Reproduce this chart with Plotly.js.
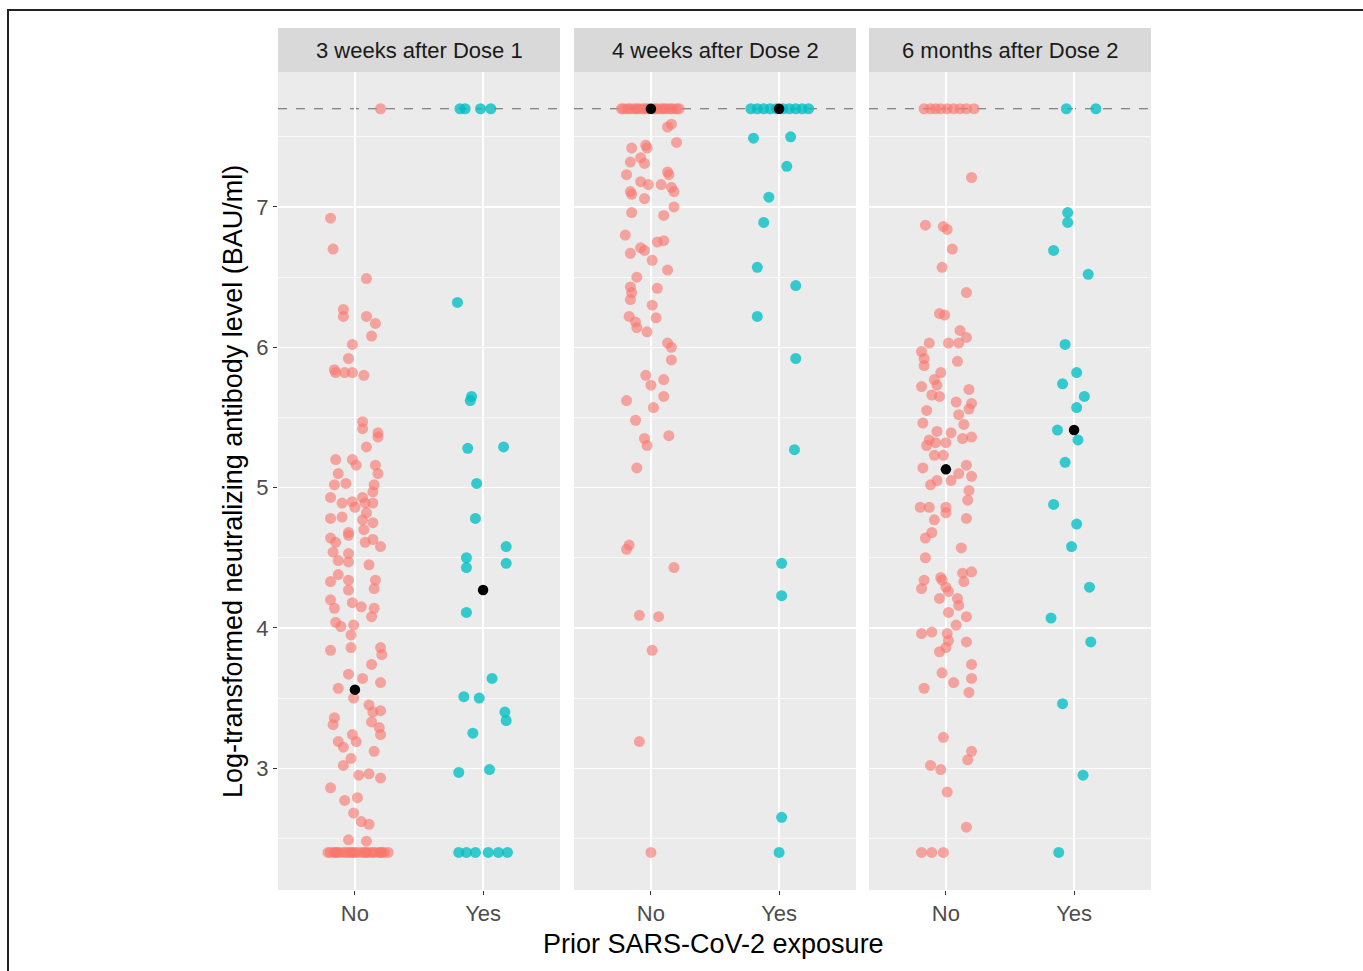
<!DOCTYPE html>
<html>
<head>
<meta charset="utf-8">
<script src="https://cdn.plot.ly/plotly-3.0.1.min.js"></script>
<style>html,body{margin:0;padding:0;background:#fff}#chart{width:1363px;height:971px}</style>
</head>
<body>
<div id="chart"></div>
<script>
// ---------- data ----------
const panels = ["3 weeks after Dose 1", "4 weeks after Dose 2", "6 months after Dose 2"];
const groups = ["No", "Yes"];
const upperLimit = 7.70;

// Panel 1: 3 weeks after Dose 1
const p1NoY = [7.70, 6.92, 6.70, 6.49, 6.27, 6.22, 6.22, 6.17, 6.08, 6.02,
  5.92, 5.84, 5.82, 5.82, 5.82, 5.80, 5.47, 5.42, 5.39, 5.36,
  5.29, 5.20, 5.20, 5.16, 5.16, 5.10, 5.10, 5.02, 5.03, 5.02,
  4.97, 4.93, 4.89, 4.90, 4.86, 4.93, 4.89, 4.89, 4.78, 4.79,
  4.77, 4.75, 4.82, 4.64, 4.61, 4.66, 4.68, 4.70, 4.61, 4.63,
  4.58, 4.54, 4.48, 4.53, 4.47, 4.45, 4.33, 4.38, 4.34, 4.27,
  4.34, 4.28, 4.20, 4.14, 4.18, 4.15, 4.14, 4.08, 4.04, 4.01,
  4.02, 3.95, 3.84, 3.86, 3.86, 3.81, 3.74, 3.67, 3.57, 3.64,
  3.50, 3.61, 3.45, 3.40, 3.41, 3.36, 3.31, 3.33, 3.29, 3.24,
  3.24, 3.19, 3.19, 3.15, 3.12, 3.07, 3.02, 2.95, 2.96, 2.93,
  2.86, 2.77, 2.79, 2.68, 2.62, 2.60, 2.49, 2.48,
  2.40, 2.40, 2.40, 2.40, 2.40, 2.40, 2.40, 2.40, 2.40, 2.40,
  2.40, 2.40, 2.40, 2.40, 2.40, 2.40, 2.40, 2.40, 2.40, 2.40,
  2.40, 2.40, 2.40, 2.40, 2.40];
const p1NoJit = [0.20, -0.19, -0.17, 0.09, -0.09, -0.09, 0.09, 0.16, 0.13, -0.02,
  -0.05, -0.16, -0.15, -0.08, -0.02, 0.07, 0.06, 0.06, 0.18, 0.18,
  0.09, -0.15, -0.02, 0.01, 0.16, 0.18, -0.13, -0.16, -0.07, 0.15,
  0.14, -0.19, -0.10, -0.02, 0.00, 0.06, 0.08, 0.14, -0.19, -0.10,
  0.06, 0.14, 0.09, -0.19, -0.15, -0.05, -0.05, 0.07, 0.08, 0.14,
  0.20, -0.17, -0.13, -0.05, -0.05, 0.11, -0.19, -0.13, -0.05, -0.05,
  0.16, 0.15, -0.19, -0.16, -0.02, 0.05, 0.15, 0.13, -0.15, -0.11,
  -0.01, -0.03, -0.19, -0.03, 0.20, 0.21, 0.13, -0.05, -0.13, 0.06,
  -0.01, 0.20, 0.11, 0.14, 0.20, -0.16, -0.17, 0.13, 0.19, 0.20,
  -0.02, 0.01, -0.13, -0.09, 0.15, -0.03, -0.09, 0.03, 0.11, 0.20,
  -0.19, -0.08, 0.02, -0.01, 0.05, 0.11, -0.05, 0.09,
  -0.21, -0.19, -0.16, -0.14, -0.12, -0.09, -0.07, -0.05, -0.02, 0.00,
  0.02, 0.05, 0.07, 0.09, 0.12, 0.14, 0.16, 0.19, 0.21, 0.23,
  0.26, -0.15, -0.03, 0.09, 0.20];
const p1YesY = [7.70, 7.70, 7.70, 7.70, 6.32, 5.65, 5.62, 5.28, 5.29, 5.03,
  4.78, 4.58, 4.46, 4.50, 4.43, 4.11, 3.64, 3.51, 3.50, 3.40,
  3.34, 3.25, 2.97, 2.99, 2.40, 2.40, 2.40, 2.40, 2.40, 2.40];
const p1YesJit = [-0.18, -0.14, -0.02, 0.06, -0.20, -0.09, -0.10, -0.12, 0.16, -0.05,
  -0.06, 0.18, 0.18, -0.13, -0.13, -0.13, 0.07, -0.15, -0.03, 0.17,
  0.18, -0.08, -0.19, 0.05, -0.19, -0.13, -0.06, 0.04, 0.12, 0.19];
const p1Means = [3.56, 4.27];

// Panel 2: 4 weeks after Dose 2
const p2NoY = [7.70, 7.70, 7.70, 7.70, 7.70, 7.70, 7.70, 7.70, 7.70, 7.70,
  7.70, 7.70, 7.70, 7.70, 7.70, 7.70, 7.70, 7.70, 7.70, 7.70,
  7.57, 7.59, 7.46, 7.42, 7.44, 7.42, 7.32, 7.35, 7.31, 7.23,
  7.25, 7.23, 7.18, 7.16, 7.16, 7.14, 7.11, 7.11, 7.09, 7.06,
  7.00, 6.96, 6.94, 6.80, 6.71, 6.69, 6.75, 6.76, 6.67, 6.62,
  6.55, 6.50, 6.43, 6.39, 6.42, 6.34, 6.30, 6.22, 6.18, 6.14,
  6.21, 6.11, 6.03, 6.00, 5.91, 5.80, 5.73, 5.77, 5.62, 5.65,
  5.57, 5.48, 5.35, 5.30, 5.37, 5.14, 4.59, 4.56, 4.43, 4.09,
  4.08, 3.84, 3.19, 2.40];
const p2NoJit = [-0.23, -0.21, -0.18, -0.16, -0.13, -0.11, -0.09, -0.06, -0.04, -0.02,
  0.01, 0.03, 0.05, 0.08, 0.10, 0.12, 0.15, 0.17, 0.20, 0.22,
  0.13, 0.16, 0.20, -0.15, -0.04, -0.03, -0.16, -0.08, -0.05, -0.19,
  0.13, 0.14, -0.08, -0.02, 0.08, 0.16, 0.18, -0.16, -0.15, -0.05,
  0.18, -0.15, 0.10, -0.20, -0.08, -0.05, 0.05, 0.10, -0.16, 0.01,
  0.13, -0.11, -0.16, -0.15, 0.05, -0.16, 0.01, -0.17, -0.12, -0.11,
  0.04, -0.03, 0.13, 0.16, 0.16, -0.04, 0.00, 0.10, -0.19, 0.10,
  0.02, -0.12, -0.05, -0.03, 0.14, -0.11, -0.17, -0.19, 0.18, -0.09,
  0.06, 0.01, -0.09, 0.00];
const p2YesY = [7.70, 7.70, 7.70, 7.70, 7.70, 7.70, 7.70, 7.70, 7.70, 7.70,
  7.49, 7.50, 7.29, 7.07, 6.89, 6.57, 6.44, 6.22, 5.92, 5.27,
  4.46, 4.23, 2.65, 2.40];
const p2YesJit = [-0.22, -0.17, -0.12, -0.07, -0.02, 0.03, 0.08, 0.13, 0.18, 0.23,
  -0.20, 0.09, 0.06, -0.08, -0.12, -0.17, 0.13, -0.17, 0.13, 0.12,
  0.02, 0.02, 0.02, 0.00];
const p2Means = [7.70, 7.70];

// Panel 3: 6 months after Dose 2
const p3NoY = [7.70, 7.70, 7.70, 7.70, 7.70, 7.70, 7.70, 7.70, 7.70,
  7.21, 6.87, 6.86, 6.84, 6.70, 6.57, 6.39, 6.24, 6.23, 6.12,
  6.07, 6.03, 6.03, 6.03, 5.97, 5.92, 5.87, 5.90, 5.82, 5.77,
  5.73, 5.72, 5.70, 5.66, 5.65, 5.61, 5.60, 5.56, 5.52, 5.55,
  5.46, 5.45, 5.40, 5.34, 5.30, 5.32, 5.39, 5.32, 5.35, 5.36,
  5.23, 5.23, 5.14, 5.02, 5.05, 5.05, 5.10, 5.16, 5.08, 4.98,
  4.91, 4.86, 4.86, 4.86, 4.82, 4.77, 4.78, 4.68, 4.64, 4.57,
  4.50, 4.34, 4.28, 4.36, 4.34, 4.29, 4.39, 4.40, 4.33, 4.21,
  4.26, 4.21, 4.16, 4.11, 4.02, 4.08, 3.96, 3.97, 3.96, 3.91,
  3.83, 3.86, 3.90, 3.74, 3.68, 3.61, 3.64, 3.57, 3.54, 3.22,
  3.12, 3.06, 3.02, 2.99, 2.83, 2.58, 2.40, 2.40, 2.40];
const p3NoJit = [-0.17, -0.12, -0.08, -0.04, 0.01, 0.06, 0.11, 0.16, 0.22,
  0.20, -0.16, -0.02, 0.01, 0.05, -0.03, 0.16, -0.05, -0.01, 0.11,
  0.16, -0.13, 0.02, 0.10, -0.19, -0.17, -0.17, 0.09, -0.04, -0.09,
  -0.07, -0.19, 0.18, -0.11, -0.05, 0.08, 0.20, 0.18, 0.10, -0.15,
  -0.18, 0.14, -0.07, -0.13, -0.15, -0.08, 0.04, 0.00, 0.13, 0.20,
  -0.09, -0.02, -0.18, -0.12, -0.07, 0.04, 0.10, 0.16, 0.20, 0.18,
  0.17, -0.20, -0.13, 0.00, 0.00, -0.09, 0.16, -0.11, -0.16, 0.12,
  -0.16, -0.17, -0.19, -0.04, -0.03, 0.00, 0.13, 0.20, 0.14, -0.05,
  0.02, 0.09, 0.10, 0.02, 0.08, 0.16, -0.19, -0.11, 0.01, 0.02,
  -0.05, 0.00, 0.16, 0.20, -0.03, 0.06, 0.20, -0.17, 0.18, -0.02,
  0.20, 0.17, -0.12, -0.04, 0.01, 0.16, -0.19, -0.11, -0.02];
const p3YesY = [7.70, 7.70, 6.96, 6.89, 6.69, 6.52, 6.02, 5.82, 5.74, 5.65,
  5.57, 5.41, 5.34, 5.18, 4.88, 4.74, 4.58, 4.29, 4.07, 3.90,
  3.46, 2.95, 2.40];
const p3YesJit = [-0.06, 0.17, -0.05, -0.05, -0.16, 0.11, -0.07, 0.02, -0.09, 0.08,
  0.02, -0.13, 0.03, -0.07, -0.16, 0.02, -0.02, 0.12, -0.18, 0.13,
  -0.09, 0.07, -0.12];
const p3Means = [5.13, 5.41];

// ---------- drawing ----------
const W = 1363, H = 971;
const red = "rgba(248,118,109,0.62)";
const teal = "rgba(0,191,196,0.78)";
const panelData = [
  {noY: p1NoY, noJ: p1NoJit, yesY: p1YesY, yesJ: p1YesJit, means: p1Means},
  {noY: p2NoY, noJ: p2NoJit, yesY: p2YesY, yesJ: p2YesJit, means: p2Means},
  {noY: p3NoY, noJ: p3NoJit, yesY: p3YesY, yesJ: p3YesJit, means: p3Means}
];
const domainsPx = [[278, 560], [574, 856], [869, 1151]];
const yBotPx = 890, yTopPx = 72, stripTopPx = 28;
const yDom = [1 - yBotPx / H, 1 - yTopPx / H];
const font = "Liberation Sans, Arial, sans-serif";

const traces = [];
const layout = {
  width: W, height: H,
  margin: {l: 0, r: 0, t: 0, b: 0},
  paper_bgcolor: "#ffffff",
  plot_bgcolor: "#EBEBEB",
  showlegend: false,
  font: {family: font, color: "#4D4D4D"},
  shapes: [], annotations: []
};

panelData.forEach((p, i) => {
  const xs = i === 0 ? "x" : "x" + (i + 1);
  const ys = i === 0 ? "y" : "y" + (i + 1);
  const xk = i === 0 ? "xaxis" : "xaxis" + (i + 1);
  const yk = i === 0 ? "yaxis" : "yaxis" + (i + 1);
  traces.push({
    type: "scatter", mode: "markers", xaxis: xs, yaxis: ys,
    x: p.noY.map((v, k) => 0 + p.noJ[k]), y: p.noY,
    marker: {color: red, size: 11, line: {width: 0}}, hoverinfo: "y"
  });
  traces.push({
    type: "scatter", mode: "markers", xaxis: xs, yaxis: ys,
    x: p.yesY.map((v, k) => 1 + p.yesJ[k]), y: p.yesY,
    marker: {color: teal, size: 11, line: {width: 0}}, hoverinfo: "y"
  });
  traces.push({
    type: "scatter", mode: "markers", xaxis: xs, yaxis: ys,
    x: [0, 1], y: p.means,
    marker: {color: "#000000", size: 10.5}, hoverinfo: "y"
  });
  const d = domainsPx[i];
  layout[xk] = {
    domain: [d[0] / W, d[1] / W],
    anchor: ys,
    range: [-0.6, 1.6],
    tickvals: [0, 1], ticktext: groups,
    ticks: "outside", ticklen: 4, tickcolor: "#333333", tickwidth: 1,
    tickfont: {size: 22, color: "#4D4D4D", family: font},
    showgrid: true, gridcolor: "#FFFFFF", gridwidth: 1.4,
    zeroline: false, showline: false, fixedrange: true
  };
  layout[yk] = {
    domain: yDom,
    anchor: xs,
    range: [2.132, 7.962],
    tickvals: [3, 4, 5, 6, 7],
    ticks: i === 0 ? "outside" : "",
    ticklen: 4, tickcolor: "#333333", tickwidth: 1,
    showticklabels: i === 0,
    tickfont: {size: 22, color: "#4D4D4D", family: font},
    showgrid: true, gridcolor: "#FFFFFF", gridwidth: 1.4,
    minor: {tickvals: [2.5, 3.5, 4.5, 5.5, 6.5, 7.5], showgrid: true, gridcolor: "#FFFFFF", gridwidth: 0.7, ticks: ""},
    zeroline: false, showline: false, fixedrange: true
  };
  // limit line
  layout.shapes.push({
    type: "line", xref: xs + " domain", yref: ys,
    x0: 0, x1: 1, y0: upperLimit, y1: upperLimit,
    line: {color: "#666666", width: 1, dash: "dash"}, layer: "below"
  });
  // strip
  layout.shapes.push({
    type: "rect", xref: xs + " domain", yref: "paper",
    x0: 0, x1: 1, y0: 1 - yTopPx / H, y1: 1 - stripTopPx / H,
    fillcolor: "#D9D9D9", line: {width: 0}
  });
  layout.annotations.push({
    text: panels[i], xref: xs + " domain", yref: "paper",
    x: 0.5, y: 1 - (yTopPx + stripTopPx) / 2 / H,
    xanchor: "center", yanchor: "middle", showarrow: false,
    font: {size: 22, color: "#1A1A1A", family: font}
  });
});

// axis titles
layout.annotations.push({
  text: "Log-transformed neutralizing antibody level (BAU/ml)",
  xref: "paper", yref: "paper", x: 233 / W, y: 1 - 482 / H,
  textangle: -90, xanchor: "center", yanchor: "middle", showarrow: false,
  font: {size: 27, color: "#000000", family: font}
});
layout.annotations.push({
  text: "Prior SARS-CoV-2 exposure",
  xref: "paper", yref: "paper", x: 713 / W, y: 1 - 944 / H,
  xanchor: "center", yanchor: "middle", showarrow: false,
  font: {size: 27, color: "#000000", family: font}
});
// outer frame of the figure
layout.shapes.push({
  type: "rect", xref: "paper", yref: "paper",
  x0: 8 / W, x1: 1.05, y0: -0.05, y1: 1 - 10 / H,
  line: {color: "#222222", width: 2}, fillcolor: "rgba(0,0,0,0)"
});

Plotly.newPlot("chart", traces, layout, {staticPlot: true, displayModeBar: false});
</script>
</body>
</html>
